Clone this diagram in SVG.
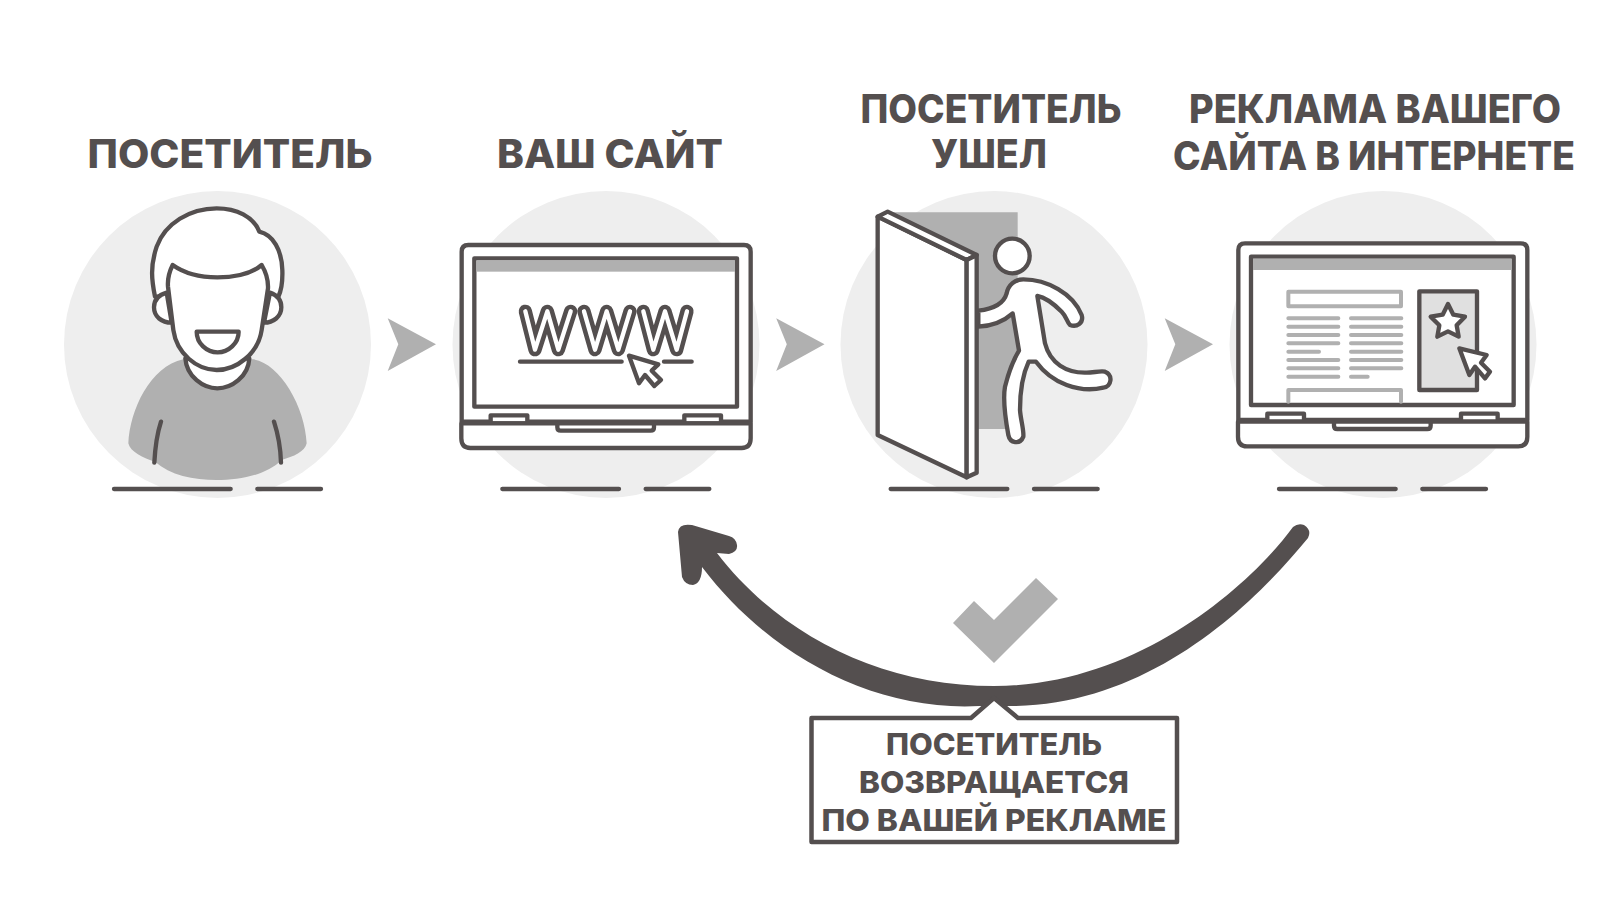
<svg xmlns="http://www.w3.org/2000/svg" width="1600" height="908" viewBox="0 0 1600 908">
<style>
.bg{fill:#eeeeee}
.ln{fill:#fff;stroke:#544f4f;stroke-width:13;stroke-linejoin:round;stroke-linecap:round}
.open{fill:none;stroke:#544f4f;stroke-width:13;stroke-linejoin:round;stroke-linecap:round}
.gr{fill:#b0b0b0}
.ghost{fill:none;stroke:#b0b0b0;stroke-width:12;stroke-linecap:round;stroke-linejoin:round}
.t{font-family:"Inter","Liberation Sans",sans-serif;font-weight:800;fill:#544f4f;text-anchor:middle}
.h{font-size:39px}
.c{font-size:30px}
</style>
<defs>
<g id="ground"><path class="open" d="M222 927H572M652 927H843"/></g>
<polygon id="chev" class="gr" points="387.7,318.3 436,344.3 387.7,371 398.3,344.3"/>
<g id="laptop">
<path class="ln" d="M65 605V95Q65 75 85 75H912Q932 75 932 95V605Z"/>
<rect class="ln" x="103" y="115" width="788" height="445"/>
<rect class="gr" x="109" y="121" width="776" height="34"/>
<rect class="ln" x="152" y="586" width="110" height="24"/>
<rect class="ln" x="733" y="586" width="110" height="24"/>
<path class="ln" d="M64 610H932V655Q932 684 905 684H91Q64 684 64 655Z"/>
<path class="open" d="M352 612V622Q352 632 362 632H632Q642 632 642 622V612"/>
</g>
</defs>

<g id="connectors">
<use href="#chev"/>
<use href="#chev" x="388.5"/>
<use href="#chev" x="777"/>
<path id="return-arrow" fill="#544f4f" d="M1293 527C1249 587 1136 686 994 686C879 686 778 633 717 553L729 554Q738 552 737 545Q736 538 729 536L692 525Q679 523 678 532L682 577Q685 585 693 585Q702 583 702 567C768 654 872 712 980 706L1010 706C1150 706 1254 604 1308 538Q1312 530 1304 525Q1298 523 1293 527Z"/>
</g>

<g id="visitor">
<circle class="bg" cx="217.5" cy="344.5" r="153.5"/>
<text class="t h" x="230" y="168" textLength="285" lengthAdjust="spacingAndGlyphs">ПОСЕТИТЕЛЬ</text>
<g transform="translate(40 180) scale(.33333)">
<path class="gr" d="M265 790C270 690 330 560 430 538H640C720 550 795 680 800 790C795 815 760 830 725 840C680 885 600 900 530 900C460 900 390 885 345 845C310 835 270 815 265 790Z"/>
<path class="ln" d="M345 350C335 300 330 260 350 200C375 130 450 85 530 85C590 85 640 110 658 155C700 165 725 210 727 270C728 300 725 330 715 350Z"/>
<path class="ln" d="M380 338C355 345 342 360 342 382C342 410 365 428 395 428Z"/>
<path class="ln" d="M690 338C710 345 724 360 724 382C724 410 700 428 672 428Z"/>
<path class="ln" d="M436 535C440 590 490 625 532 625C575 625 625 590 628 535Z"/>
<path class="ln" d="M398 255C440 285 490 292 532 292C580 292 630 285 665 255C680 280 685 300 684 325L665 450C655 520 590 570 530 570C470 570 410 520 400 450L384 320C382 295 388 275 398 255Z"/>
<path class="ln" d="M470 455H596C596 490 565 517 533 517C500 517 470 490 470 455Z"/>
<path class="open" d="M363 725C350 765 345 810 343 848M702 725C715 765 722 810 723 848"/>
<use href="#ground"/>
</g>
</g>

<g id="site">
<circle class="bg" cx="606" cy="344.5" r="153.5"/>
<text class="t h" x="610" y="168" textLength="226" lengthAdjust="spacingAndGlyphs">ВАШ САЙТ</text>
<g transform="translate(440 220) scale(.33333)">
<use href="#laptop"/>
<path fill="none" stroke="#544f4f" stroke-width="40" stroke-linejoin="round" stroke-linecap="round" d="M256 274L285 389L322 274L355 389L392 274M432 274L465 389L500 274L535 389L570 274M610 274L640 389L675 274L710 389L741 274"/>
<path fill="none" stroke="#fff" stroke-width="13" stroke-linejoin="round" stroke-linecap="round" d="M256 274L285 389L322 274L355 389L392 274M432 274L465 389L500 274L535 389L570 274M610 274L640 389L675 274L710 389L741 274"/>
<path class="open" d="M240 425H545M672 425H755"/>
<polygon class="ln" points="567,407 597,490 615,465 643,498 663,480 635,452 655,433"/>
<use href="#ground" transform="translate(-35 -120)"/>
</g>
</g>

<g id="exit">
<circle class="bg" cx="994" cy="344.5" r="153.5"/>
<text class="t h" x="991" y="123" textLength="261" lengthAdjust="spacingAndGlyphs">ПОСЕТИТЕЛЬ</text>
<text class="t h" x="989" y="168" textLength="116" lengthAdjust="spacingAndGlyphs">УШЕЛ</text>
<g transform="translate(840 190) scale(.33333)">
<polygon class="gr" points="140,67 533,67 533,717 380,717 380,210"/>
<circle class="ln" cx="517" cy="198" r="52"/>
<path class="ln" d="M415 362C450 358 490 345 500 310C505 285 525 268 550 268C620 268 700 310 725 375C732 400 710 412 690 405C680 395 680 380 665 365C640 340 615 322 592 318L615 460C630 520 680 550 740 548C760 548 780 542 795 545C820 555 815 590 790 593C760 600 720 600 680 585C640 570 610 545 588 515H566C545 560 540 610 540 660C542 690 552 720 550 740C540 765 510 760 505 735C495 680 488 630 495 590C505 550 520 510 537 482L518 370C490 395 450 408 415 410Z"/>
<polygon class="ln" points="113,80 380,210 380,862 113,735"/>
<polygon class="ln" points="113,80 143,65 410,195 380,210"/>
<polygon class="ln" points="380,210 410,195 410,848 380,862"/>
<use href="#ground" transform="translate(-70 -30)"/>
</g>
</g>

<g id="advert">
<circle class="bg" cx="1383" cy="344.5" r="153.5"/>
<text class="t h" x="1375" y="123" textLength="372" lengthAdjust="spacingAndGlyphs">РЕКЛАМА ВАШЕГО</text>
<text class="t h" x="1374" y="170" textLength="402" lengthAdjust="spacingAndGlyphs">САЙТА В ИНТЕРНЕТЕ</text>
<g transform="translate(1220 220) scale(.33333)">
<use href="#laptop" x="-10" y="-5"/>
<rect class="ghost" x="205" y="215" width="338" height="44"/>
<path class="ghost" d="M205 295H355M393 295H544M205 320H355M393 320H544M205 345H355M393 345H544M205 370H355M393 370H544M205 395H297M393 395H544M205 420H355M393 420H544M205 445H355M393 445H544M205 470H355M393 470H443M205 545V510H543V545"/>
<rect x="598" y="214" width="173" height="296" fill="#e0e0e0" stroke="#544f4f" stroke-width="13" stroke-linejoin="round"/>
<polygon class="ln" points="684,252 700,284 735,290 710,316 716,350 684,334 652,350 658,316 632,290 668,284"/>
<polygon class="ln" points="718,385 748,465 765,440 795,475 810,455 783,428 800,405"/>
<use href="#ground" transform="translate(-45 -120)"/>
</g>
</g>

<g id="check"><polygon class="gr" points="953,623 974,601 994,620 1036,578 1058,599 994,663"/></g>

<g id="return-note">
<polygon fill="#fff" stroke="#544f4f" stroke-width="4.5" stroke-linejoin="round" points="811.5,718 971,718 994,698 1018,718 1177,718 1177,842 811.5,842"/>
<text class="t c" x="994" y="755" textLength="216" lengthAdjust="spacingAndGlyphs">ПОСЕТИТЕЛЬ</text>
<text class="t c" x="994" y="793" textLength="270" lengthAdjust="spacingAndGlyphs">ВОЗВРАЩАЕТСЯ</text>
<text class="t c" x="994" y="831" textLength="345" lengthAdjust="spacingAndGlyphs">ПО ВАШЕЙ РЕКЛАМЕ</text>
</g>
</svg>
